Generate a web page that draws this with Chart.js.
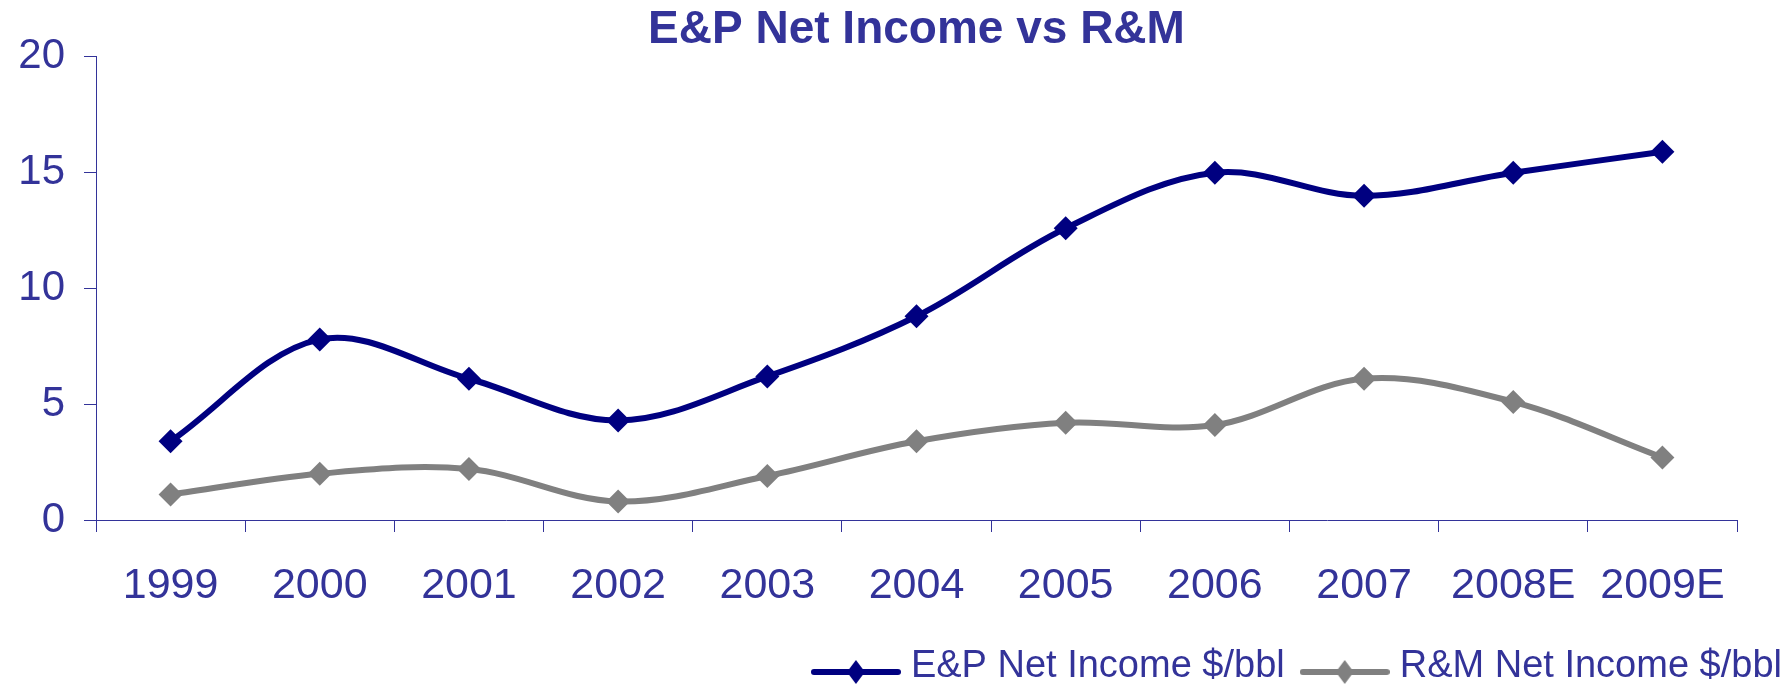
<!DOCTYPE html>
<html>
<head>
<meta charset="utf-8">
<script src="https://cdn.jsdelivr.net/npm/chart.js@4/dist/chart.umd.min.js"></script>
<style>
  html, body { margin: 0; padding: 0; background: #ffffff; }
  #wrap { width: 1791px; height: 686px; }
</style>
</head>
<body>
<div id="wrap"><canvas id="c" width="1791" height="686"></canvas></div>
<script>
const categories = ['1999', '2000', '2001', '2002', '2003', '2004', '2005', '2006', '2007', '2008E', '2009E'];
const epValues = [3.4, 7.8, 6.1, 4.3, 6.2, 8.8, 12.6, 15.0, 14.0, 15.0, 15.9];
const rmValues = [1.1, 2.0, 2.2, 0.8, 1.9, 3.4, 4.2, 4.1, 6.1, 5.1, 2.7];
const seriesNames = ['E&P Net Income $/bbl', 'R&M Net Income $/bbl'];
const seriesColors = ['#000080', '#808080'];
const titleText = 'E&P Net Income vs R&M';

const TEXT = '#333399';
const FONT = '"Liberation Sans", Arial, Helvetica, sans-serif';

function legendIcon(color) {
  const cv = document.createElement('canvas');
  cv.width = 90; cv.height = 36;
  const g = cv.getContext('2d');
  const cy = 23;
  g.strokeStyle = color; g.lineWidth = 6; g.lineCap = 'round';
  g.beginPath(); g.moveTo(3, cy); g.lineTo(87, cy); g.stroke();
  g.fillStyle = color;
  g.beginPath();
  g.moveTo(45, cy - 12); g.lineTo(54, cy); g.lineTo(45, cy + 12); g.lineTo(36, cy);
  g.closePath(); g.fill();
  return cv;
}
const icons = seriesColors.map(legendIcon);

new Chart(document.getElementById('c'), {
  type: 'line',
  data: {
    labels: categories,
    datasets: [
      { label: seriesNames[0], data: epValues, borderColor: seriesColors[0], backgroundColor: seriesColors[0],
        borderWidth: 6, tension: 0.35, pointStyle: 'rectRot', pointRadius: 12, pointBorderWidth: 0,
        pointBackgroundColor: seriesColors[0], fill: false },
      { label: seriesNames[1], data: rmValues, borderColor: seriesColors[1], backgroundColor: seriesColors[1],
        borderWidth: 6, tension: 0.35, pointStyle: 'rectRot', pointRadius: 12, pointBorderWidth: 0,
        pointBackgroundColor: seriesColors[1], fill: false }
    ]
  },
  options: {
    responsive: false,
    devicePixelRatio: 1,
    animation: false,
    events: [],
    layout: { padding: { left: 0, right: -15, top: 0, bottom: -10 } },
    plugins: {
      tooltip: { enabled: false },
      title: {
        display: true, text: titleText, color: TEXT, fullSize: false,
        font: { family: FONT, size: 46, weight: 'bold', lineHeight: 1.15 },
        padding: { top: 4, bottom: 0 }
      },
      legend: {
        display: true, position: 'bottom', align: 'end',
        labels: {
          usePointStyle: true, pointStyleWidth: 72, padding: 24,
          color: TEXT, font: { family: FONT, size: 38 },
          generateLabels: (chart) => chart.data.datasets.map((ds, i) => ({
            text: ds.label, fillStyle: ds.borderColor, strokeStyle: ds.borderColor,
            lineWidth: 0, pointStyle: icons[i], datasetIndex: i, hidden: false, fontColor: TEXT
          }))
        }
      }
    },
    scales: {
      x: {
        type: 'category',
        offset: true,
        grid: { offset: true, drawOnChartArea: false, drawTicks: true, tickLength: 12, color: TEXT, lineWidth: 1 },
        border: { display: true, color: TEXT, width: 1 },
        ticks: { color: TEXT, font: { family: FONT, size: 43 }, padding: 28, maxRotation: 0, autoSkip: false },
        afterFit: (s) => { s.height = 104; }
      },
      y: {
        type: 'linear', position: 'left', min: 0, max: 20,
        grid: { drawOnChartArea: false, drawTicks: true, tickLength: 12, color: TEXT, lineWidth: 1 },
        border: { display: true, color: TEXT, width: 1 },
        ticks: { stepSize: 5, color: TEXT, font: { family: FONT, size: 42 }, padding: 19 },
        afterFit: (s) => { s.width = 96; }
      },
      yRight: {
        type: 'linear', position: 'right', display: true,
        grid: { display: false, drawTicks: false },
        border: { display: false },
        ticks: { display: false },
        afterFit: (s) => { s.width = 69; }
      }
    }
  }
});
</script>
</body>
</html>
